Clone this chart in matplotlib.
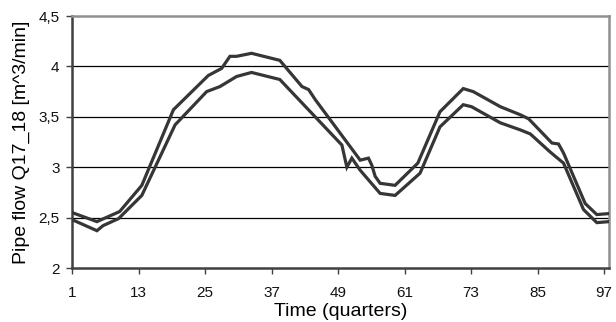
import matplotlib
matplotlib.use("Agg")
import matplotlib.pyplot as plt
from matplotlib.ticker import FuncFormatter

plt.rcParams['font.family'] = ['Liberation Sans', 'DejaVu Sans']

# Upper series (quarter, flow)
upper_q = [1, 5.5, 9.6, 13.6, 19.3, 25.6, 28.0, 29.5, 30.7, 33.4, 38.5, 42.5, 43.7,
           44.9, 53.0, 54.5, 55.1, 55.7, 56.6, 59.3, 63.4, 67.4, 71.6, 73.4, 78.3,
           81.9, 83.4, 87.6, 88.8, 89.7, 93.6, 95.7, 97.9]
upper_v = [2.55, 2.46, 2.56, 2.82, 3.57, 3.91, 3.98, 4.10, 4.10, 4.13, 4.06, 3.80, 3.77,
           3.67, 3.07, 3.09, 3.02, 2.91, 2.84, 2.82, 3.04, 3.55, 3.78, 3.75, 3.60,
           3.52, 3.48, 3.24, 3.23, 3.14, 2.64, 2.53, 2.54]

# Lower series (quarter, flow)
lower_q = [1, 5.5, 6.6, 9.4, 13.6, 19.6, 25.3, 27.7, 30.7, 33.4, 38.5, 49.7, 50.6,
           51.5, 53.0, 56.6, 59.3, 63.8, 67.4, 71.6, 73.1, 78.3, 81.9, 83.7, 87.3,
           89.7, 93.3, 95.7, 97.9]
lower_v = [2.48, 2.37, 2.42, 2.49, 2.72, 3.42, 3.75, 3.80, 3.90, 3.94, 3.87, 3.22, 3.00,
           3.09, 2.97, 2.74, 2.72, 2.94, 3.40, 3.62, 3.60, 3.44, 3.37, 3.33, 3.15,
           3.04, 2.58, 2.45, 2.46]

x_ticks = [1, 13, 25, 37, 49, 61, 73, 85, 97]
y_ticks = [2, 2.5, 3, 3.5, 4, 4.5]

fig = plt.figure(figsize=(6.16, 3.22), dpi=100)
ax = fig.add_axes([72/616, 1-268/322, (609-72)/616, (268-16)/322])

for y in [2.5, 3, 3.5, 4]:
    ax.axhline(y, color='black', lw=0.9, zorder=1)

line_color = '#363636'
ax.plot(upper_q, upper_v, color=line_color, lw=2.3, solid_joinstyle='miter', zorder=3)
ax.plot(lower_q, lower_v, color=line_color, lw=2.3, solid_joinstyle='miter', zorder=3)

ax.set_xlim(1, 97.9)
ax.set_ylim(2, 4.5)
ax.set_xticks(x_ticks)
ax.set_yticks(y_ticks)
ax.yaxis.set_major_formatter(FuncFormatter(lambda v, p: ('%g' % v).replace('.', ',')))

for s in ['left', 'bottom']:
    ax.spines[s].set_color('#404040')
    ax.spines[s].set_linewidth(1.8)
for s in ['top', 'right']:
    ax.spines[s].set_color('#909090')
    ax.spines[s].set_linewidth(1.8)

ax.tick_params(axis='both', direction='out', length=4, width=1, color='#404040',
               labelsize=11, labelcolor='#111111')
ax.tick_params(axis='x', pad=9)
ax.tick_params(axis='y', pad=5)

ax.set_xlabel('Time (quarters)', fontsize=14, labelpad=2)
ax.set_ylabel('Pipe flow Q17_18 [m^3/min]', fontsize=14, labelpad=6)

fig.savefig('out.png', dpi=100)
